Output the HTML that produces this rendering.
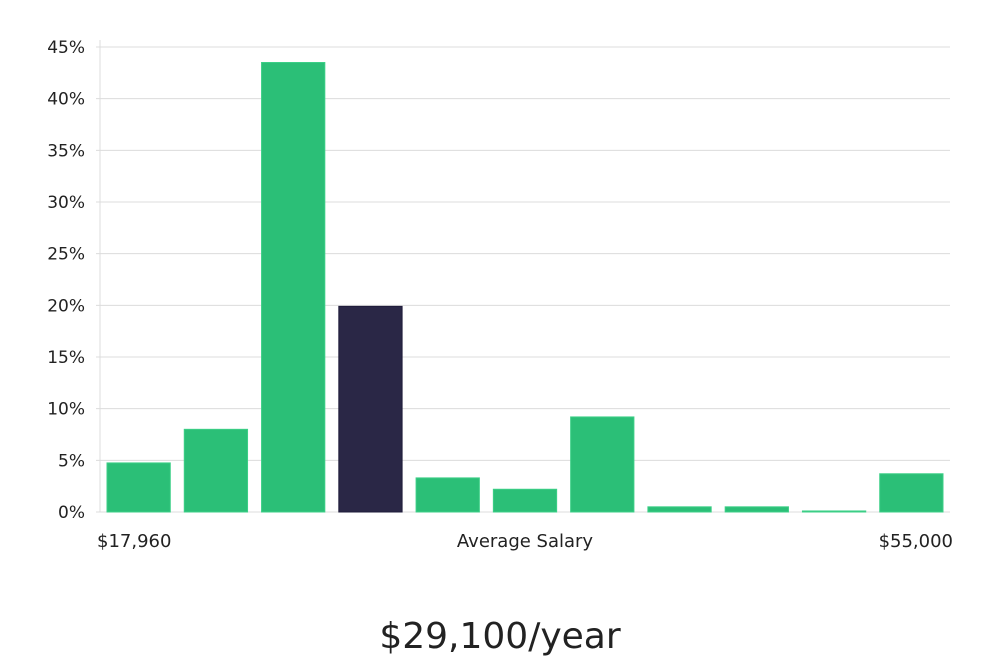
<!DOCTYPE html>
<html><head><meta charset="utf-8">
<style>
html,body{margin:0;padding:0;background:#fff;}
svg{display:block;font-family:"DejaVu Sans","Liberation Sans",sans-serif;}
</style></head>
<body>
<svg id="chart" width="1000" height="660" viewBox="0 0 1000 660"></svg>
<script>
const categories = ["b1","b2","b3","b4","b5","b6","b7","b8","b9","b10","b11"];
const values = [4.75, 8.0, 43.5, 19.9, 3.3, 2.2, 9.2, 0.5, 0.5, 0.1, 3.7];
const highlight = [false,false,false,true,false,false,false,false,false,false,false];
const yTicks = [0,5,10,15,20,25,30,35,40,45];
const yTickLabels = ["0%","5%","10%","15%","20%","25%","30%","35%","40%","45%"];
const xLabels = ["$17,960","Average Salary","$55,000"];
const salaryText = "$29,100/year";

const svg = document.getElementById('chart');
const NS = 'http://www.w3.org/2000/svg';
const L = 100, R = 950, T = 47, B = 512, yMax = 45;
const y = v => B - (v / yMax) * (B - T);
const band = (R - L) / categories.length;
const x = i => L + i * band;
function mk(tag, attrs){ const e = document.createElementNS(NS, tag); for (const k in attrs) e.setAttribute(k, attrs[k]); svg.appendChild(e); return e; }

yTicks.forEach((t, i) => {
  const g = mk('line', {x1: L - 4, x2: R, y1: y(t), y2: y(t), stroke: '#dcdcdc', 'stroke-width': 1});
  
  
  const lb = mk('text', {x: 85, y: y(t) + 6, 'text-anchor': 'end', 'font-size': 17, fill: '#222'});
  lb.textContent = yTickLabels[i];
  
  
});
const ax = mk('line', {x1: L, x2: L, y1: 40, y2: B, stroke: '#dcdcdc', 'stroke-width': 1});



values.forEach((v, i) => {
  const pad = 7;
  const r = mk('rect', {x: x(i) + pad, y: y(v), width: band - 2 * pad, height: B - y(v),
    fill: highlight[i] ? '#2a2746' : '#2bbf77', stroke: highlight[i] ? '#1e1b3a' : '#3ccf87', 'stroke-width': 1});
  
  
});

const xl = [[97, 'start'], [525, 'middle'], [953, 'end']];
xLabels.forEach((s, i) => {
  const t = mk('text', {x: xl[i][0], y: 547, 'text-anchor': xl[i][1], 'font-size': 18, fill: '#222'});
  t.textContent = s;
  
  
});
const st = mk('text', {x: 500, y: 648, 'text-anchor': 'middle', 'font-size': 36, fill: '#222'});
st.textContent = salaryText;


</script>
</body></html>
